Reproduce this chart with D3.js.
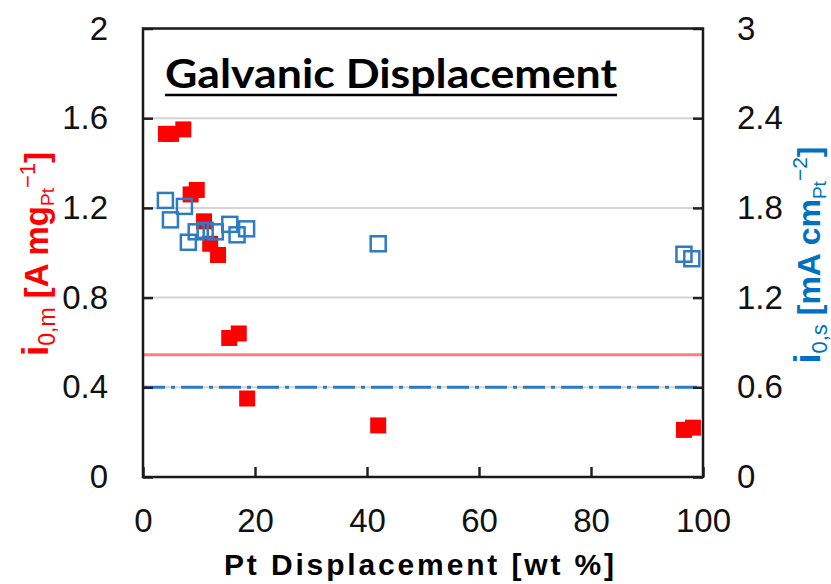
<!DOCTYPE html>
<html>
<head>
<meta charset="utf-8">
<script src="https://cdn.jsdelivr.net/npm/d3@7"></script>
<style>
  html, body { margin: 0; padding: 0; background: #fff; }
  svg { display: block; }
</style>
</head>
<body>
<svg id="chart" width="831" height="584"></svg>
<script>
// ---- data ----
const massX   = [4.1, 5.0, 7.2, 8.5, 9.6, 10.9, 12.0, 13.4, 15.4, 17.1, 18.6, 42.0, 96.6, 98.2];
const massY   = [1.53, 1.53, 1.55, 1.26, 1.28, 1.14, 1.04, 0.99, 0.62, 0.64, 0.35, 0.23, 0.21, 0.22];
const specX   = [4.0, 4.9, 7.4, 8.1, 9.5, 11.1, 12.9, 15.5, 16.8, 18.5, 42.0, 96.6, 98.0];
const specY   = [1.85, 1.72, 1.81, 1.57, 1.64, 1.65, 1.64, 1.69, 1.62, 1.66, 1.56, 1.49, 1.46];
const massRef = 0.545;   // A mgPt^-1 (left axis)
const specRef = 0.6;     // mA cmPt^-2 (right axis)
const xTicks  = [0, 20, 40, 60, 80, 100];
const yLTicks = [0, 0.4, 0.8, 1.2, 1.6, 2];
const yRTicks = [0, 0.6, 1.2, 1.8, 2.4, 3];
const gridTicks = [0.4, 0.8, 1.2, 1.6];
const titleText = "Galvanic Displacement";
const xTitle = "Pt Displacement [wt %]";

// ---- layout ----
const W = 831, H = 584;
const m = { left: 143, right: 128, top: 28.5, bottom: 107 };
const iw = W - m.left - m.right, ih = H - m.top - m.bottom;

const RED = "#FF0000", RED_LINE = "#FF7C80", BLUE = "#2E7BC4", BLUE_TXT = "#0070C0";
const TICK_FONT = "'Liberation Sans', Arial, sans-serif";

const svg = d3.select("#chart");
const g = svg.append("g").attr("transform", `translate(${m.left},${m.top})`);

const x  = d3.scaleLinear().domain([0, 100]).range([0, iw]);
const yL = d3.scaleLinear().domain([0, 2]).range([ih, 0]);
const yR = d3.scaleLinear().domain([0, 3]).range([ih, 0]);

// gridlines
g.append("g").selectAll("line").data(gridTicks).join("line")
  .attr("x1", 0).attr("x2", iw)
  .attr("y1", d => yL(d)).attr("y2", d => yL(d))
  .attr("stroke", "#d4d4d4").attr("stroke-width", 2);

// reference lines
g.append("line").attr("x1", 0).attr("x2", iw)
  .attr("y1", yL(massRef)).attr("y2", yL(massRef))
  .attr("stroke", RED_LINE).attr("stroke-width", 3);
g.append("line").attr("x1", 0).attr("x2", iw)
  .attr("y1", yR(specRef)).attr("y2", yR(specRef))
  .attr("stroke", BLUE).attr("stroke-width", 3)
  .attr("stroke-dasharray", "22 6 4 6");

// red filled squares (mass activity)
const S = 16;
g.append("g").selectAll("rect").data(massX.map((d, i) => [d, massY[i]])).join("rect")
  .attr("x", d => x(d[0]) - S / 2).attr("y", d => yL(d[1]) - S / 2)
  .attr("width", S).attr("height", S).attr("fill", RED);

// blue open squares (specific activity)
const SB = 15;
g.append("g").selectAll("rect").data(specX.map((d, i) => [d, specY[i]])).join("rect")
  .attr("x", d => x(d[0]) - SB / 2).attr("y", d => yR(d[1]) - SB / 2)
  .attr("width", SB).attr("height", SB)
  .attr("fill", "none").attr("stroke", BLUE).attr("stroke-width", 2.5);

// axes
function styleAxis(sel) {
  sel.select(".domain").remove();
  sel.selectAll(".tick line").attr("stroke", "#222").attr("stroke-width", 2.5);
  sel.selectAll(".tick text").attr("fill", "#111")
    .style("font-family", TICK_FONT).style("font-size", "33px");
}
const fmt = d => String(d);
g.append("g").call(d3.axisLeft(yL).tickValues(yLTicks).tickFormat(fmt).tickSize(-10).tickPadding(35))
  .call(styleAxis);
g.append("g").attr("transform", `translate(${iw},0)`)
  .call(d3.axisRight(yR).tickValues(yRTicks).tickFormat(fmt).tickSize(-10).tickPadding(34))
  .call(styleAxis);
g.append("g").attr("transform", `translate(0,${ih})`)
  .call(d3.axisBottom(x).tickValues(xTicks).tickFormat(fmt).tickSize(-10).tickPadding(32))
  .call(styleAxis);

// frame
g.append("rect").attr("x", 0).attr("y", 0).attr("width", iw).attr("height", ih)
  .attr("fill", "none").attr("stroke", "#1a1a1a").attr("stroke-width", 2.5);

// title with underline
g.append("text").attr("x", 165 - m.left).attr("y", 88 - m.top)
  .attr("font-family", "Lato, 'Open Sans', sans-serif").attr("font-weight", 700)
  .attr("font-size", 40).attr("fill", "#000")
  .attr("textLength", 452).attr("lengthAdjust", "spacingAndGlyphs")
  .text(titleText);
g.append("line").attr("x1", 165 - m.left).attr("x2", 617 - m.left)
  .attr("y1", 95 - m.top).attr("y2", 95 - m.top)
  .attr("stroke", "#000").attr("stroke-width", 2.5);

// x axis title
svg.append("text").attr("x", 224).attr("y", 575)
  .attr("font-family", TICK_FONT).attr("font-weight", 700).attr("font-size", 30)
  .attr("fill", "#000").attr("textLength", 390).attr("lengthAdjust", "spacing")
  .text(xTitle);

// left y axis title (red)
const lt = svg.append("text").attr("transform", "translate(48,254) rotate(-90)")
  .attr("text-anchor", "middle").attr("fill", RED)
  .attr("font-family", TICK_FONT).attr("font-weight", 700);
lt.append("tspan").attr("font-size", 37).text("i");
lt.append("tspan").attr("font-size", 23).attr("font-weight", 400).attr("dy", 7).text("0,m");
lt.append("tspan").attr("font-size", 33).attr("dy", -7).text(" [A mg");
lt.append("tspan").attr("font-size", 19).attr("font-weight", 400).attr("dy", 6).text("Pt");
lt.append("tspan").attr("font-size", 22).attr("font-weight", 400).attr("dy", -19).text("\u22121");
lt.append("tspan").attr("font-size", 33).attr("dy", 13).text("]");

// right y axis title (blue)
const rt = svg.append("text").attr("transform", "translate(820,255) rotate(-90)")
  .attr("text-anchor", "middle").attr("fill", BLUE_TXT)
  .attr("font-family", TICK_FONT).attr("font-weight", 700);
rt.append("tspan").attr("font-size", 36).text("i");
rt.append("tspan").attr("font-size", 22).attr("font-weight", 400).attr("dy", 7).text("0,s");
rt.append("tspan").attr("font-size", 32).attr("dy", -7).text(" [mA cm");
rt.append("tspan").attr("font-size", 19).attr("font-weight", 400).attr("dy", 6).text("Pt");
rt.append("tspan").attr("font-size", 21).attr("font-weight", 400).attr("dy", -19).text("\u22122");
rt.append("tspan").attr("font-size", 32).attr("dy", 13).text("]");
</script>
</body>
</html>
